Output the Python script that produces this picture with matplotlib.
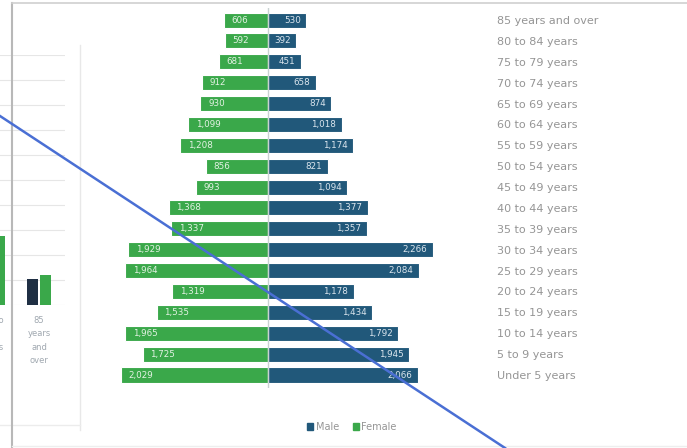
import numpy as np
import matplotlib.pyplot as plt
from matplotlib.lines import Line2D
from matplotlib.patches import Patch

# Dữ liệu tháp dân số (từ dưới lên trên)
ages = ['Under 5 years', '5 to 9 years', '10 to 14 years', '15 to 19 years',
        '20 to 24 years', '25 to 29 years', '30 to 34 years', '35 to 39 years',
        '40 to 44 years', '45 to 49 years', '50 to 54 years', '55 to 59 years',
        '60 to 64 years', '65 to 69 years', '70 to 74 years', '75 to 79 years',
        '80 to 84 years', '85 years and over']
male = [2066, 1945, 1792, 1434, 1178, 2084, 2266, 1357, 1377, 1094,
        821, 1174, 1018, 874, 658, 451, 392, 530]
female = [2029, 1725, 1965, 1535, 1319, 1964, 1929, 1337, 1368, 993,
          856, 1208, 1099, 930, 912, 681, 592, 606]

# Biểu đồ cột bị cắt ở bên trái
left_cats = ['75 to\n79\nyears', '85\nyears\nand\nover']
left_male = [1300, 530]
left_female = [1380, 606]

W, H = 687, 448
MALE_C = '#21587a'
FEMALE_C = '#3aa84a'
GRAY = '#959595'


def box(x0, y0, x1, y1):
    return [x0 / W, 1 - y1 / H, (x1 - x0) / W, (y1 - y0) / H]


fig = plt.figure(figsize=(W / 100, H / 100), dpi=100)
fig.patch.set_facecolor('white')

# Tháp dân số
ax = fig.add_axes(box(110, 8, 440, 388))
scale = 0.0726  # px / đơn vị
ax.set_xlim(-(268 - 110) / scale, (440 - 268) / scale)
row = 20.88
ax.set_ylim(-(388 - 375) / row, (375 - 8) / row)
y = np.arange(len(ages))
ax.barh(y, [-v for v in female], height=0.72, color=FEMALE_C, edgecolor='white', linewidth=0.8)
ax.barh(y, male, height=0.72, color=MALE_C, edgecolor='white', linewidth=0.8)
ax.axvline(0, color='#c9d2d2', lw=1, zorder=3)
for i in range(len(ages)):
    ax.annotate(f'{female[i]:,}', (-female[i], i), xytext=(5.5, 0), textcoords='offset points',
                ha='left', va='center', fontsize=6.3, color='#e4f2e4')
    ax.annotate(f'{male[i]:,}', (male[i], i), xytext=(-4, 0), textcoords='offset points',
                ha='right', va='center', fontsize=6.3, color='#dce6ee')
ax.set_yticks(y)
ax.set_yticklabels(ages, fontsize=8, color=GRAY)
ax.yaxis.tick_right()
ax.tick_params(axis='y', length=0, pad=41)
ax.set_xticks([])
for s in ax.spines.values():
    s.set_visible(False)

fig.legend(handles=[Patch(color=MALE_C), Patch(color=FEMALE_C)], labels=['Male', 'Female'],
           loc='center', bbox_to_anchor=(352 / W, 1 - 427 / H), ncol=2, frameon=False,
           fontsize=7, labelcolor=GRAY, handlelength=0.6, handleheight=0.6,
           handletextpad=0.3, columnspacing=1.4)

# Biểu đồ cột bên trái (bị cắt)
ax2 = fig.add_axes(box(-60, 55, 65, 305))
unit = 46.5
ax2.set_xlim(1 - (39 + 60) / unit, 1 + (65 - 39) / unit)
ax2.set_ylim(0, 5000)
xs = np.arange(len(left_cats))
bw = 11 / unit
ax2.bar(xs - 0.14, left_male, width=bw, color='#1f2f44')
ax2.bar(xs + 0.14, left_female, width=bw, color=FEMALE_C)
ax2.set_yticks(np.arange(0, 5001, 500))
ax2.yaxis.grid(True, color='#e6e6e6', lw=0.8)
ax2.set_axisbelow(True)
ax2.tick_params(length=0, labelleft=False)
ax2.set_xticks(xs)
ax2.set_xticklabels(left_cats, fontsize=6, color='#a0a8b0', linespacing=1.6)
ax2.tick_params(axis='x', pad=8)
for s in ax2.spines.values():
    s.set_visible(False)

# Lớp phủ: khung, đường xanh
ov = fig.add_axes([0, 0, 1, 1])
ov.set_xlim(0, W)
ov.set_ylim(H, 0)
ov.axis('off')
ov.patch.set_visible(False)
ov.add_line(Line2D([80, 80], [45, 430], color='#e8e8e8', lw=1))
ov.add_line(Line2D([0, 80], [425, 425], color='#ececec', lw=1))
ov.add_line(Line2D([12, 12], [3, 448], color='#b8b8b8', lw=1.5))
ov.add_line(Line2D([12, 687], [3, 3], color='#cfcfcf', lw=1.2))
ov.add_line(Line2D([12, 687], [446, 446], color='#eeeeee', lw=1))
ov.add_line(Line2D([0, 505], [116, 448], color='#4a6fd4', lw=1.8))

fig.savefig('out.png', dpi=100, facecolor='white')
